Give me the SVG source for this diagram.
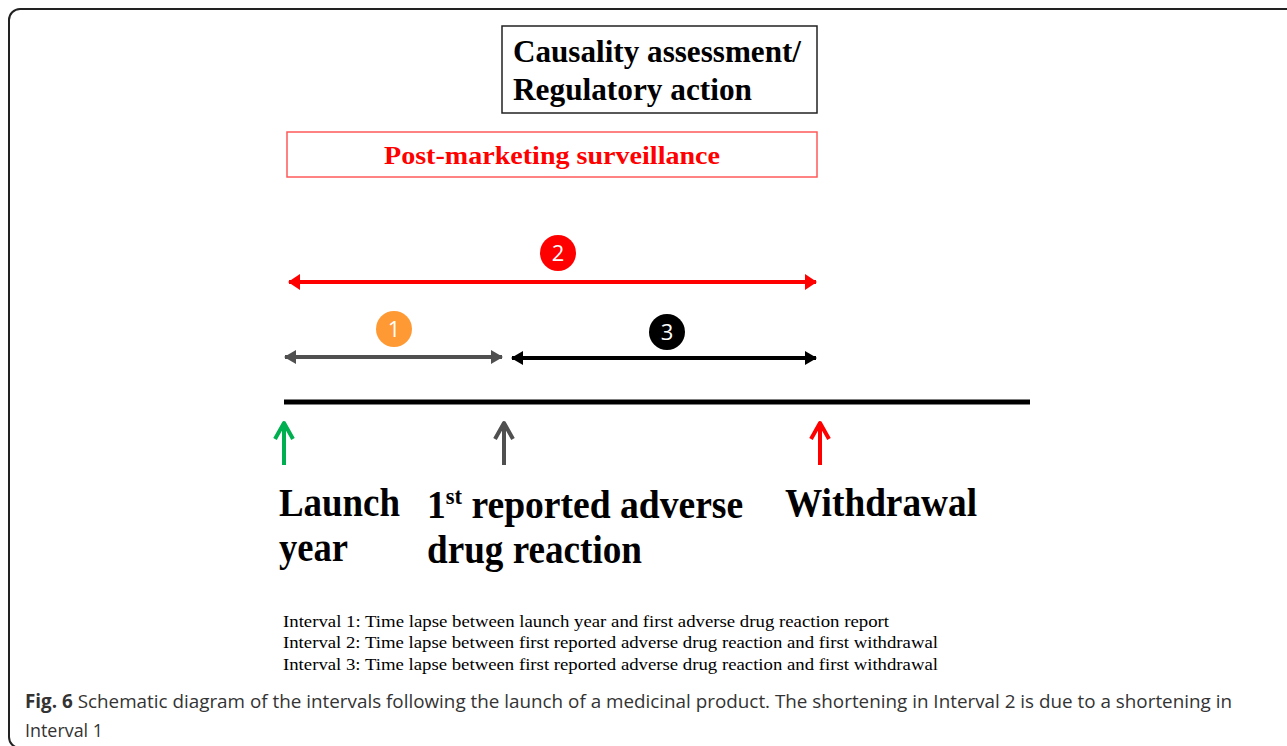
<svg xmlns="http://www.w3.org/2000/svg" width="1287" height="746" viewBox="0 0 1287 746">
<style>
.big{font-family:"Liberation Serif",serif;font-weight:bold;fill:#000}
.lbl{font-family:"Liberation Serif",serif;font-weight:bold;font-size:40px;fill:#000}
.iv{font-family:"Liberation Serif",serif;font-size:17px;fill:#000}
.num{font-family:"Open Sans","Liberation Sans",sans-serif;font-size:22px;fill:#fff;text-anchor:middle}
.cap{font-family:"Open Sans","Liberation Sans",sans-serif;font-size:19px;fill:#333}
.up{fill:none;stroke-width:4;stroke-linejoin:round}
</style>
<defs>
<marker id="hR" viewBox="0 0 12 16" refX="11" refY="8" markerWidth="12" markerHeight="16" markerUnits="userSpaceOnUse" orient="auto-start-reverse"><path d="M0,0 L12,8 L0,16 Z" fill="#ff0000"/></marker>
<marker id="hG" viewBox="0 0 12 14" refX="11" refY="7" markerWidth="12" markerHeight="14" markerUnits="userSpaceOnUse" orient="auto-start-reverse"><path d="M0,0 L12,7 L0,14 Z" fill="#505050"/></marker>
<marker id="hK" viewBox="0 0 12 14" refX="11" refY="7" markerWidth="12" markerHeight="14" markerUnits="userSpaceOnUse" orient="auto-start-reverse"><path d="M0,0 L12,7 L0,14 Z" fill="#000"/></marker>
</defs>
<rect width="1287" height="746" fill="#fff"/>
<rect x="9" y="9" width="1310" height="739" rx="11" fill="none" stroke="#222" stroke-width="2"/>

<g id="causality">
<rect x="502" y="26" width="315" height="87" fill="#fff" stroke="#222" stroke-width="1.5"/>
<text class="big" x="513" y="62" font-size="31" textLength="288" lengthAdjust="spacingAndGlyphs">Causality assessment/</text>
<text class="big" x="513" y="100" font-size="31" textLength="239" lengthAdjust="spacingAndGlyphs">Regulatory action</text>
</g>
<g id="pms">
<rect x="287" y="132" width="530" height="45" fill="#fff" stroke="#ff5a5a" stroke-width="1.5"/>
<text class="big" x="384" y="164" font-size="25" style="fill:#ff0000" textLength="336" lengthAdjust="spacingAndGlyphs">Post-marketing surveillance</text>
</g>

<g id="connectors">
<line x1="289" y1="282" x2="816" y2="282" stroke="#ff0000" stroke-width="4" marker-start="url(#hR)" marker-end="url(#hR)"/>
<line x1="285" y1="357" x2="502" y2="357" stroke="#505050" stroke-width="4" marker-start="url(#hG)" marker-end="url(#hG)"/>
<line x1="512" y1="358" x2="816" y2="358" stroke="#000" stroke-width="4" marker-start="url(#hK)" marker-end="url(#hK)"/>
<line x1="284" y1="402" x2="1030" y2="402" stroke="#000" stroke-width="5"/>
<path class="up" stroke="#00b050" d="M284,465 V423 M275,439 L284,423 L293,439"/>
<path class="up" stroke="#505050" d="M504,465 V423 M495,439 L504,423 L513,439"/>
<path class="up" stroke="#ff0000" d="M820,465 V423 M811,439 L820,423 L829,439"/>
</g>

<g id="badge2"><circle cx="558" cy="253" r="18" fill="#ff0000"/><text class="num" x="558" y="261">2</text></g>
<g id="badge1"><circle cx="394" cy="329" r="18" fill="#ff9933"/><text class="num" x="394" y="337">1</text></g>
<g id="badge3"><circle cx="667" cy="332" r="18" fill="#000"/><text class="num" x="667" y="340">3</text></g>

<g id="launch">
<text class="lbl" x="279" y="516" textLength="121" lengthAdjust="spacingAndGlyphs">Launch</text>
<text class="lbl" x="279" y="561" textLength="69" lengthAdjust="spacingAndGlyphs">year</text>
</g>
<g id="first-adr">
<text class="lbl" x="427" y="518" transform="translate(427,0) scale(0.94,1) translate(-427,0)">1<tspan font-size="24" dy="-14">st</tspan><tspan dy="14"> reported adverse</tspan></text>
<text class="lbl" x="427" y="563" textLength="215" lengthAdjust="spacingAndGlyphs">drug reaction</text>
</g>
<g id="withdrawal">
<text class="lbl" x="785" y="516" textLength="192" lengthAdjust="spacingAndGlyphs">Withdrawal</text>
</g>

<g id="legend">
<text class="iv" x="283" y="627" textLength="606" lengthAdjust="spacingAndGlyphs">Interval 1: Time lapse between launch year and first adverse drug reaction report</text>
<text class="iv" x="283" y="648" textLength="655" lengthAdjust="spacingAndGlyphs">Interval 2: Time lapse between first reported adverse drug reaction and first withdrawal</text>
<text class="iv" x="283" y="670" textLength="655" lengthAdjust="spacingAndGlyphs">Interval 3: Time lapse between first reported adverse drug reaction and first withdrawal</text>
</g>

<g id="caption">
<text class="cap" x="25" y="708" textLength="1207" lengthAdjust="spacingAndGlyphs"><tspan font-weight="bold">Fig. 6</tspan> Schematic diagram of the intervals following the launch of a medicinal product. The shortening in Interval 2 is due to a shortening in</text>
<text class="cap" x="25" y="737" textLength="78" lengthAdjust="spacingAndGlyphs">Interval 1</text>
</g>
</svg>
